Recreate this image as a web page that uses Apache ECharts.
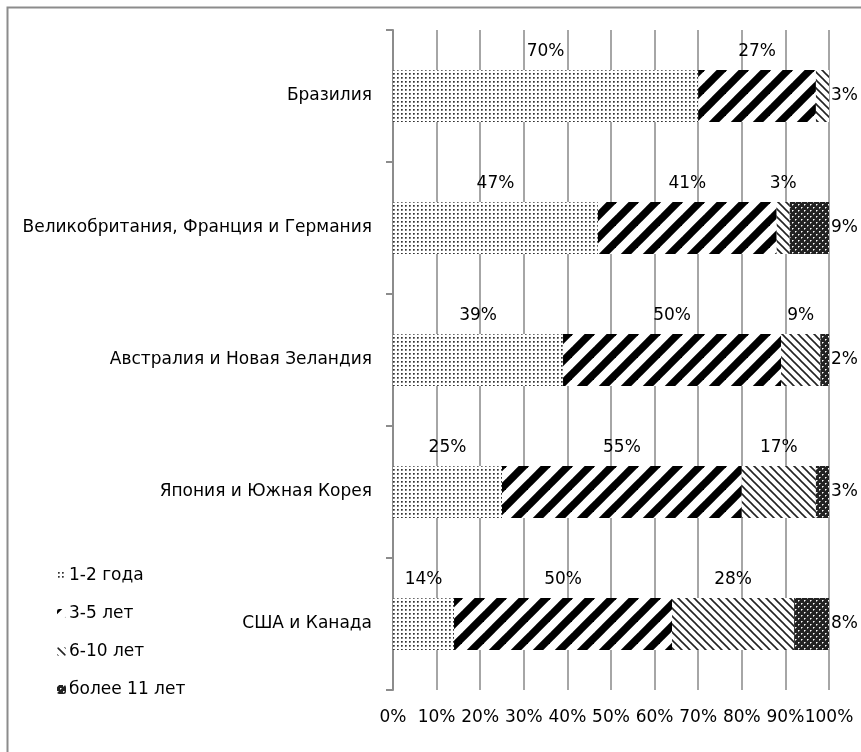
<!DOCTYPE html>
<html><head><meta charset="utf-8">
<script src="https://cdn.jsdelivr.net/npm/echarts@6/dist/echarts.min.js"></script>
<style>html,body{margin:0;padding:0;background:#fff}#c{width:861px;height:752px}</style>
</head><body><div id="c"></div>
<script>
const categories = ['Бразилия','Великобритания, Франция и Германия','Австралия и Новая Зеландия','Япония и Южная Корея','США и Канада'];
const seriesNames = ['1-2 года','3-5 лет','6-10 лет','более 11 лет'];
const years1to2 = [70,47,39,25,14];
const years3to5 = [27,41,50,55,50];
const years6to10 = [3,3,9,17,28];
const years11plus = [0,9,2,3,8];
const values = [years1to2, years3to5, years6to10, years11plus];

function tile(w,h,draw){const c=document.createElement('canvas');c.width=w;c.height=h;const g=c.getContext('2d');g.fillStyle='#fff';g.fillRect(0,0,w,h);draw(g,w,h);return c;}
const patDots = tile(4,4,(g)=>{g.fillStyle='#333';g.fillRect(1,1,1,1);g.fillStyle='#6a6a6a';g.fillRect(2,1,1,1);g.fillRect(1,2,1,1);g.fillStyle='#a0a0a0';g.fillRect(2,2,1,1);});
const patWide = tile(22,22,(g,w,h)=>{g.strokeStyle='#000';g.lineWidth=7.5;for(let k=-2;k<=2;k++){g.beginPath();g.moveTo(k*w-w,2*h);g.lineTo(k*w+2*w,-h);g.stroke();}});
const patThin = tile(8,8,(g,w,h)=>{g.strokeStyle='#222';g.lineWidth=1.6;for(let k=-2;k<=2;k++){g.beginPath();g.moveTo(k*w-w,-h);g.lineTo(k*w+2*w,2*h);g.stroke();}});
const patDark = tile(6,6,(g,w,h)=>{g.fillStyle='#222';g.fillRect(0,0,w,h);g.fillStyle='#fff';g.fillRect(0,0,1,1);g.fillRect(3,3,1,1);g.fillStyle='#999';g.fillRect(1,0,1,1);g.fillRect(0,1,1,1);g.fillRect(4,3,1,1);g.fillRect(3,4,1,1);});
const patterns = [patDots, patWide, patThin, patDark];

const FONT = 'DejaVu Sans';
const FS = 17;
// index of the last non-zero segment in each row
const lastIdx = categories.map((_,i)=>{let L=0;values.forEach((v,s)=>{if(v[i]>0)L=s;});return L;});

const series = seriesNames.map((name,s)=>({
  name, type:'bar', stack:'total', barWidth:52,
  itemStyle:{color:{image:patterns[s],repeat:'repeat'}},
  data: values[s].map((v,i)=>({
    value:v,
    label:{show:v>0, position: lastIdx[i]===s ? 'right' : 'top', distance: lastIdx[i]===s ? 2 : 10}
  })),
  label:{formatter:'{c}%', color:'#000', fontFamily:FONT, fontSize:FS}
}));

const chart = echarts.init(document.getElementById('c'));
chart.setOption({
  animation:false,
  backgroundColor:'#fff',
  grid:{left:393,right:32,top:30,bottom:62,containLabel:false},
  xAxis:{type:'value',min:0,max:100,interval:10,
    axisLabel:{formatter:'{value}%',color:'#000',fontFamily:FONT,fontSize:FS,margin:19},
    axisLine:{show:false},axisTick:{show:false},
    splitLine:{lineStyle:{color:'#a6a6a6',width:2}}},
  yAxis:{type:'category',inverse:true,data:categories,
    axisLine:{lineStyle:{color:'#8c8c8c',width:2}},
    axisTick:{show:true,length:7,lineStyle:{color:'#8c8c8c',width:2}},
    axisLabel:{color:'#000',fontFamily:FONT,fontSize:FS,margin:21}},
  legend:{orient:'vertical',left:52,top:562,itemWidth:9,itemHeight:9,itemGap:21,
    textStyle:{color:'#000',fontFamily:FONT,fontSize:FS,padding:[0,0,0,-2]},
    data:seriesNames},
  graphic:[{type:'rect',left:5,top:5,shape:{x:0,y:0,width:900,height:800},style:{fill:null,stroke:'#8c8c8c',lineWidth:2},z:-1}],
  series
});
</script></body></html>
